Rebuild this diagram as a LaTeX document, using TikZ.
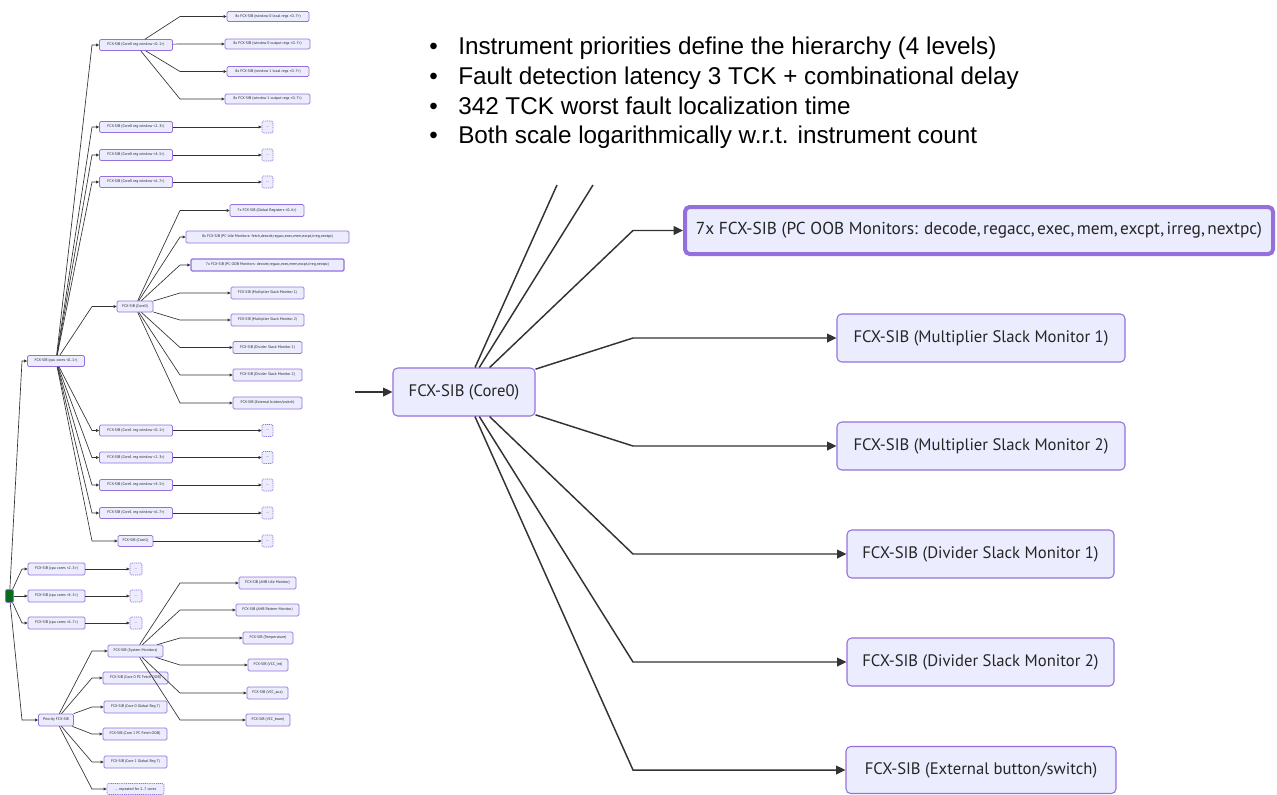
\documentclass[tikz,border=0pt]{standalone}
\usepackage{fontspec}
\setmainfont{Liberation Sans}
\newfontfamily\diagfont{PT Sans}
\usetikzlibrary{arrows.meta}
\definecolor{sibfill}{HTML}{ECECFF}
\definecolor{sibline}{HTML}{9370DB}
\definecolor{wirecol}{HTML}{333333}
\definecolor{rootgreen}{HTML}{0A6B1F}
% comma followed by a little extra room, as in the monitor lists
\newcommand{\cm}{,\kern1.8pt}

\begin{document}
\begin{tikzpicture}[x=0.75pt,y=-0.75pt,
  sz/.style 2 args={minimum width=#1*0.75pt, minimum height=#2*0.75pt},
  sib/.style={draw=sibline, fill=sibfill, line width=0.55pt, rounded corners=1pt,
    inner sep=0pt, text=black!85, font=\diagfont\fontsize{2.9}{3.2}\selectfont},
  more/.style={sib, dash pattern=on 0.8pt off 0.6pt},
  big/.style={draw=sibline, fill=sibfill, line width=0.8pt, rounded corners=3.5pt,
    inner sep=0pt, text=black!85, font=\diagfont\fontsize{12.5}{14}\selectfont},
  wire/.style={draw=wirecol, line width=0.5pt, -{Triangle[length=2.3pt,width=2.2pt]}},
  bigwire/.style={draw=wirecol, line width=1.1pt, -{Triangle[length=7pt,width=6.5pt]}},
  plainwire/.style={draw=wirecol, line width=1.1pt},
  point/.style={anchor=base west, inner sep=0pt, font=\fontsize{18.2}{22}\selectfont, text=black}
]
\useasboundingbox (0,0) rectangle (1277,794);

% bend columns
\coordinate (bxA) at (22,0);
\coordinate (bxB) at (92,0);
\coordinate (bxC) at (180,0);
\coordinate (bxR) at (633,0);

% ---------- overview tree ----------
\node[sib, fill=rootgreen, sz={8}{13}] (root) at (9.5,596) {};
\node[sib, sz={57}{11}] (cpu01) at (56,361) {FCX-SIB (cpu cores <0..1>)};
\node[sib, sz={57}{12}] (cpu23) at (56.5,569) {FCX-SIB (cpu cores <2..3>)};
\node[sib, sz={57}{12}] (cpu45) at (56.5,596) {FCX-SIB (cpu cores <4..5>)};
\node[sib, sz={57}{12}] (cpu67) at (56.5,623) {FCX-SIB (cpu cores <6..7>)};
\node[sib, sz={35}{12}] (prio) at (56,720) {Priority FCX-SIB};
\node[more, sz={12}{12}] (d23) at (136,569) {...};
\node[more, sz={12}{12}] (d45) at (136,596) {...};
\node[more, sz={12}{12}] (d67) at (136,623) {...};

% core 0 register windows
\node[sib, sz={73}{11}] (w0a) at (136,45) {FCX-SIB (Core0 reg window <0..1>)};
\node[sib, sz={73}{11}] (w0b) at (136,127) {FCX-SIB (Core0 reg window <2..3>)};
\node[sib, sz={73}{11}] (w0c) at (136,155) {FCX-SIB (Core0 reg window <4..5>)};
\node[sib, sz={73}{11}] (w0d) at (136,182) {FCX-SIB (Core0 reg window <6..7>)};
\node[more, sz={11}{12}] (e0b) at (267.5,127) {...};
\node[more, sz={11}{12}] (e0c) at (267.5,155) {...};
\node[more, sz={11}{12}] (e0d) at (267.5,182) {...};
\node[sib, sz={82}{10}] (r0a) at (268,16.5) {8x FCX-SIB (window 0 local regs <0..7>)};
\node[sib, sz={85}{10}] (r0b) at (267.5,44) {8x FCX-SIB (window 0 output regs <0..7>)};
\node[sib, sz={82}{10}] (r0c) at (268,71.5) {8x FCX-SIB (window 1 local regs <0..7>)};
\node[sib, sz={85}{10}] (r0d) at (267.5,99) {8x FCX-SIB (window 1 output regs <0..7>)};

% core 0 instruments
\node[sib, sz={36}{11}] (c0s) at (135,306.5) {FCX-SIB (Core0)};
\node[sib, sz={74}{12}] (i1) at (267,210.5) {7x FCX-SIB (Global Registers <0..6>)};
\node[sib, sz={163}{12}] (i2) at (267.5,237) {8x FCX-SIB (PC Idle Monitors: fetch,decode,regacc,exec,mem,excpt,irreg,nextpc)};
\node[sib, line width=0.9pt, sz={153}{12}] (i3) at (267.5,265) {7x FCX-SIB (PC OOB Monitors: decode,regacc,exec,mem,excpt,irreg,nextpc)};
\node[sib, sz={73}{12}] (i4) at (267.5,293) {FCX-SIB (Multiplier Slack Monitor 1)};
\node[sib, sz={73}{12}] (i5) at (267.5,320) {FCX-SIB (Multiplier Slack Monitor 2)};
\node[sib, sz={69}{12}] (i6) at (267.5,347.5) {FCX-SIB (Divider Slack Monitor 1)};
\node[sib, sz={69}{12}] (i7) at (267.5,375) {FCX-SIB (Divider Slack Monitor 2)};
\node[sib, sz={69}{12}] (i8) at (267.5,403) {FCX-SIB (External button/switch)};

% core 1
\node[sib, sz={73}{11}] (w1a) at (136,430.5) {FCX-SIB (Core1 reg window <0..1>)};
\node[sib, sz={73}{11}] (w1b) at (136,457.5) {FCX-SIB (Core1 reg window <2..3>)};
\node[sib, sz={73}{11}] (w1c) at (136,485) {FCX-SIB (Core1 reg window <4..5>)};
\node[sib, sz={73}{11}] (w1d) at (136,513) {FCX-SIB (Core1 reg window <6..7>)};
\node[sib, sz={35}{11}] (c1s) at (135.5,541) {FCX-SIB (Core1)};
\node[more, sz={11}{12}] (e1a) at (267.5,430.5) {...};
\node[more, sz={11}{12}] (e1b) at (267.5,457.5) {...};
\node[more, sz={11}{12}] (e1c) at (267.5,485) {...};
\node[more, sz={11}{12}] (e1d) at (267.5,513) {...};
\node[more, sz={11}{12}] (e1s) at (267.5,541) {...};

% priority branch
\node[sib, sz={55}{12}] (sys) at (135.5,651) {FCX-SIB (System Monitors)};
\node[sib, sz={65}{12}] (p1) at (135.5,678) {FCX-SIB (Core 0 PC Fetch OOB)};
\node[sib, sz={63}{12}] (p2) at (135.5,707) {FCX-SIB (Core 0 Global Reg 7)};
\node[sib, sz={64}{12}] (p3) at (135,734) {FCX-SIB (Core 1 PC Fetch OOB)};
\node[sib, sz={63}{12}] (p4) at (135.5,762) {FCX-SIB (Core 1 Global Reg 7)};
\node[more, sz={57}{11}] (p5) at (135.5,789) {... repeated for 2..7 cores};
\node[sib, sz={57}{12}] (s1) at (267.5,583) {FCX-SIB (AHB Idle Monitor)};
\node[sib, sz={63}{12}] (s2) at (267.5,610) {FCX-SIB (AHB Pattern Monitor)};
\node[sib, sz={50}{12}] (s3) at (268,638) {FCX-SIB (Temperature)};
\node[sib, sz={40}{12}] (s4) at (268,665) {FCX-SIB (VCC\_Int)};
\node[sib, sz={41}{12}] (s5) at (267.5,693) {FCX-SIB (VCC\_aux)};
\node[sib, sz={44}{12}] (s6) at (268,720) {FCX-SIB (VCC\_bram)};

% overview connectors
\foreach \t in {cpu01,cpu23,cpu67,prio}
  \draw[wire] (root) -- (\t.west -| bxA) -- (\t);
\draw[wire] (root) -- (cpu45);
\foreach \t in {w0a,w0b,w0c,w0d,c0s,w1a,w1b,w1c,w1d,c1s}
  \draw[wire] (cpu01) -- (\t.west -| bxB) -- (\t);
\foreach \t in {r0a,r0b,r0c,r0d}
  \draw[wire] (w0a) -- (\t.west -| bxC) -- (\t);
\foreach \t in {i1,i2,i3,i4,i5,i6,i7,i8}
  \draw[wire] (c0s) -- (\t.west -| bxC) -- (\t);
\foreach \s/\t in {w0b/e0b,w0c/e0c,w0d/e0d,w1a/e1a,w1b/e1b,w1c/e1c,w1d/e1d,c1s/e1s,cpu23/d23,cpu45/d45,cpu67/d67}
  \draw[wire] (\s) -- (\t);
\foreach \t in {sys,p1,p2,p3,p4,p5}
  \draw[wire] (prio) -- (\t.west -| bxB) -- (\t);
\foreach \t in {s1,s2,s3,s4,s5,s6}
  \draw[wire] (sys) -- (\t.west -| bxC) -- (\t);

% ---------- notes ----------
\node[point] (k1) at (429,54) {•};
\node[point] (k2) at (429,84) {•};
\node[point] (k3) at (429,114) {•};
\node[point] (k4) at (429,143) {•};
\node[point] (t1) at (458,54) {Instrument priorities define the hierarchy (4 levels)};
\node[point] (t2) at (458,84) {Fault detection latency 3 TCK + combinational delay};
\node[point] (t3) at (458,114) {342 TCK worst fault localization time};
\node[point] (t4) at (458,143) {Both scale logarithmically w.r.t. instrument count};

% ---------- close-up of core 0 ----------
\node[big, sz={142}{48}] (Rc) at (464,392) {FCX-SIB (Core0)};
\node[big, line width=3pt, sz={588}{47}, font=\diagfont\fontsize{13}{15}\selectfont] (Ro) at (979,230.5)
  {7x FCX-SIB (PC OOB Monitors: decode\cm regacc\cm exec\cm mem\cm excpt\cm irreg\cm nextpc)};
\node[big, sz={288}{48}] (Rm1) at (981,338) {FCX-SIB (Multiplier Slack Monitor 1)};
\node[big, sz={288}{48}] (Rm2) at (981,446) {FCX-SIB (Multiplier Slack Monitor 2)};
\node[big, sz={267}{48}] (Rd1) at (980.5,554) {FCX-SIB (Divider Slack Monitor 1)};
\node[big, sz={267}{48}] (Rd2) at (980.5,662) {FCX-SIB (Divider Slack Monitor 2)};
\node[big, sz={270}{47}] (Rx) at (981,770) {FCX-SIB (External button/switch)};

\coordinate (Rin) at (355,392);
\coordinate (Rcut1) at (557,185);
\coordinate (Rcut2) at (593,185);
\draw[bigwire] (Rin) -- (Rc);
\draw[plainwire] (Rc) -- (Rcut1);
\draw[plainwire] (Rc) -- (Rcut2);
\foreach \t in {Ro,Rm1,Rm2,Rd1,Rd2,Rx}
  \draw[bigwire] (Rc) -- (\t.west -| bxR) -- (\t);
\end{tikzpicture}
\end{document}
